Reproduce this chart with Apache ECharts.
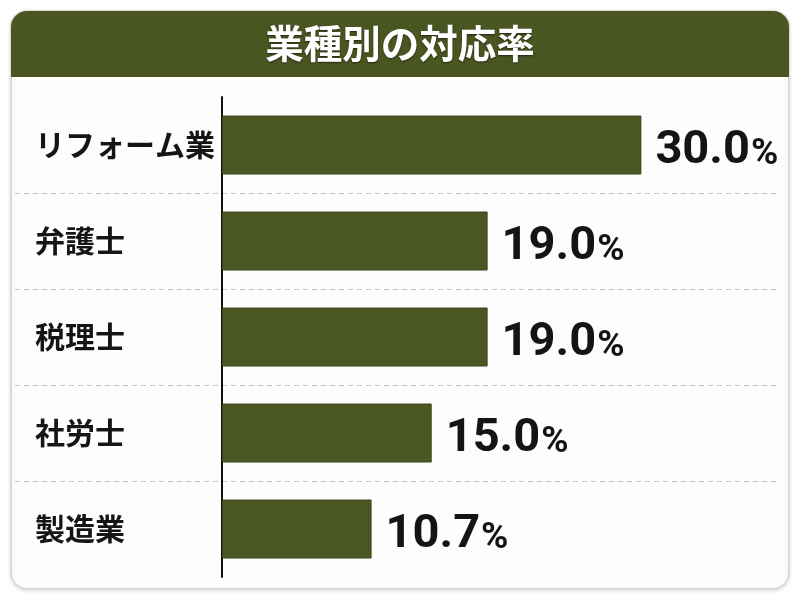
<!DOCTYPE html>
<html>
<head>
<meta charset="utf-8">
<script src="https://cdn.jsdelivr.net/npm/echarts@6/dist/echarts.min.js"></script>
<style>
  html, body { margin: 0; padding: 0; background: #ffffff; }
  #main { width: 800px; height: 600px; }
</style>
</head>
<body>
<div id="main"></div>
<script>
// 業種別の対応率（%）
var categories = ['リフォーム業', '弁護士', '税理士', '社労士', '製造業'];
var rates = [30.0, 19.0, 19.0, 15.0, 10.7];

var barColor = '#4a5722';
var cjk = '"Noto Sans CJK JP", sans-serif';
var numFont = 'Roboto, "Noto Sans", sans-serif';

var myChart = echarts.init(document.getElementById('main'));

option = {
  backgroundColor: '#ffffff',
  animation: false,
  // カードと見出し帯
  graphic: [
    {
      type: 'rect', z: -10, silent: true,
      shape: { x: 11, y: 11, width: 778, height: 578, r: 16 },
      style: { fill: '#fdfdfd', stroke: '#d4d4d4', lineWidth: 1.5,
               shadowColor: 'rgba(0,0,0,0.12)', shadowBlur: 4, shadowOffsetY: 1 }
    },
    {
      type: 'rect', z: -9, silent: true,
      shape: { x: 11, y: 11, width: 778, height: 66, r: [16, 16, 0, 0] },
      style: { fill: '#4a5622' }
    }
  ],
  title: {
    text: '業種別の対応率',
    left: 'center',
    top: 24,
    padding: 0,
    textStyle: {
      fontFamily: cjk, fontSize: 38.5, fontWeight: 'bold', color: '#ffffff',
      textShadowColor: 'rgba(0,0,0,0.55)', textShadowBlur: 2, textShadowOffsetY: 1
    }
  },
  grid: [
    // 区切り線用（全幅）
    { left: 15, right: 20, top: 97, bottom: 23 },
    // 棒グラフ本体
    { left: 222, right: 30, top: 97, bottom: 23 }
  ],
  xAxis: [
    { gridIndex: 0, type: 'value', show: false, min: 0, max: 1 },
    { gridIndex: 1, type: 'value', show: false, min: 0, max: 39.2 }
  ],
  yAxis: [
    {
      gridIndex: 0, type: 'category', data: categories, inverse: true,
      axisLine: { show: false }, axisTick: { show: false }, axisLabel: { show: false },
      splitLine: {
        show: true, showMinLine: false, showMaxLine: false,
        lineStyle: { color: '#c4c4c4', type: [5, 4], width: 1.2 }
      }
    },
    {
      gridIndex: 1, type: 'category', data: categories, inverse: true,
      axisLine: { show: true, lineStyle: { color: '#111111', width: 2 } },
      axisTick: { show: false },
      splitLine: { show: false },
      axisLabel: {
        align: 'left', margin: 187,
        fontFamily: cjk, fontSize: 30, fontWeight: 'bold', color: '#151515'
      }
    }
  ],
  series: [
    {
      type: 'bar',
      xAxisIndex: 1, yAxisIndex: 1,
      data: rates,
      barWidth: 59,
      itemStyle: { color: barColor, borderColor: '#3b4619', borderWidth: 1 },
      label: {
        show: true, position: 'right', distance: 14,
        formatter: function (p) { return '{n|' + p.value.toFixed(1) + '}{p|%}'; },
        rich: {
          n: { fontFamily: numFont, fontSize: 47, fontWeight: 'bold', color: '#141414', lineHeight: 52, padding: [12, 0, 0, 0] },
          p: { fontFamily: numFont, fontSize: 37, fontWeight: 'bold', color: '#141414', lineHeight: 52, padding: [20, 0, 0, 1] }
        }
      }
    }
  ]
};

myChart.setOption(option);
</script>
</body>
</html>
